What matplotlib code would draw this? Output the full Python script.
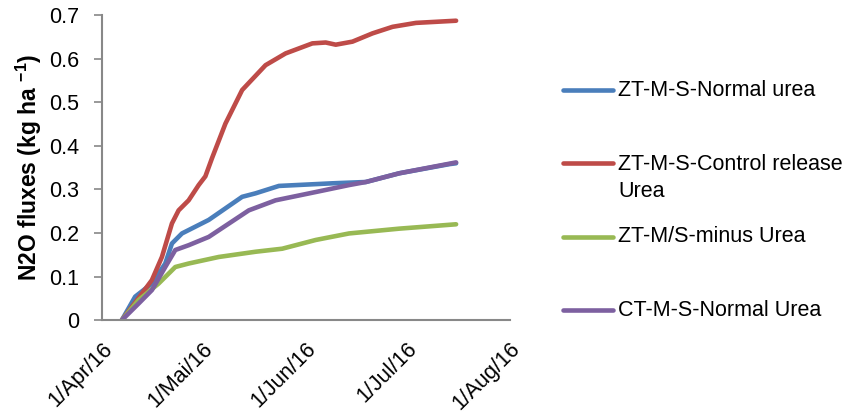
import pandas as pd
import matplotlib
matplotlib.use("Agg")
import matplotlib.pyplot as plt
from matplotlib.lines import Line2D

plt.rcParams['font.family'] = ['Liberation Sans', 'DejaVu Sans']
plt.rcParams['mathtext.default'] = 'regular'

# cumulative N2O fluxes (kg ha-1)
normal_dates = ['2016-04-07', '2016-04-11', '2016-04-16', '2016-04-20', '2016-04-22', '2016-04-25',
                '2016-05-03', '2016-05-13', '2016-05-17', '2016-05-24', '2016-06-09', '2016-06-19',
                '2016-06-29', '2016-07-14', '2016-07-16']
normal_vals = [0, 0.054, 0.084, 0.130, 0.176, 0.199, 0.230, 0.283, 0.291, 0.308, 0.314, 0.317,
               0.337, 0.358, 0.360]

control_dates = ['2016-04-07', '2016-04-13', '2016-04-16', '2016-04-19', '2016-04-22', '2016-04-24',
                 '2016-04-27', '2016-04-30', '2016-05-02', '2016-05-04', '2016-05-08', '2016-05-13',
                 '2016-05-20', '2016-05-26', '2016-06-03', '2016-06-07', '2016-06-10', '2016-06-15',
                 '2016-06-21', '2016-06-27', '2016-07-04', '2016-07-16']
control_vals = [0, 0.061, 0.092, 0.145, 0.222, 0.252, 0.275, 0.310, 0.330, 0.372, 0.451, 0.528,
                0.585, 0.612, 0.635, 0.637, 0.632, 0.639, 0.658, 0.673, 0.682, 0.687]

minus_dates = ['2016-04-07', '2016-04-12', '2016-04-18', '2016-04-23', '2016-04-27', '2016-05-06',
               '2016-05-17', '2016-05-25', '2016-06-04', '2016-06-14', '2016-06-29', '2016-07-16']
minus_vals = [0, 0.046, 0.084, 0.122, 0.130, 0.145, 0.157, 0.164, 0.184, 0.199, 0.210, 0.220]

ct_dates = ['2016-04-07', '2016-04-12', '2016-04-16', '2016-04-20', '2016-04-23', '2016-04-27',
            '2016-05-03', '2016-05-15', '2016-05-23', '2016-06-04', '2016-06-14', '2016-06-19',
            '2016-06-29', '2016-07-14', '2016-07-16']
ct_vals = [0, 0.038, 0.069, 0.122, 0.161, 0.172, 0.191, 0.252, 0.275, 0.294, 0.310, 0.317,
           0.337, 0.359, 0.362]

labels = ['ZT-M-S-Normal urea', 'ZT-M-S-Control release\nUrea', 'ZT-M/S-minus Urea', 'CT-M-S-Normal Urea']
colors = ['#4A7EBB', '#BE4B48', '#98B954', '#7D60A0']

tick_dates = ['2016-04-01', '2016-05-01', '2016-06-01', '2016-07-01', '2016-08-01']
tick_labels = ['1/Apr/16', '1/Mai/16', '1/Jun/16', '1/Jul/16', '1/Aug/16']

fig = plt.figure(figsize=(8.55, 4.18), dpi=100)
ax = fig.add_axes([0.119, 0.234, 0.477, 0.730])

series = [(normal_dates, normal_vals), (control_dates, control_vals),
          (minus_dates, minus_vals), (ct_dates, ct_vals)]
for (d, v), lab, col in zip(series, labels, colors):
    ax.plot(pd.to_datetime(d), v, color=col, linewidth=3.3, label=lab,
            solid_capstyle='round', solid_joinstyle='round')

ax.set_xlim(pd.Timestamp(tick_dates[0]), pd.Timestamp(tick_dates[-1]))
ax.set_ylim(0, 0.7)
ax.set_yticks([0, 0.1, 0.2, 0.3, 0.4, 0.5, 0.6, 0.7])
ax.set_yticklabels(['0', '0.1', '0.2', '0.3', '0.4', '0.5', '0.6', '0.7'])
ax.set_xticks(pd.to_datetime(tick_dates))
ax.set_xticklabels(tick_labels, rotation=45, ha='right', va='top', rotation_mode='anchor')

for s in ['top', 'right']:
    ax.spines[s].set_visible(False)
for s in ['left', 'bottom']:
    ax.spines[s].set_color('#888888')
    ax.spines[s].set_linewidth(1.5)
ax.tick_params(axis='y', direction='out', length=6, width=1.2, color='#888888', labelsize=15.5, pad=10)
ax.tick_params(axis='x', length=0, labelsize=15.5, pad=13)

ax.set_ylabel(r'N2O fluxes (kg ha $^{-1}$)', fontsize=16.5, fontweight='bold', labelpad=4)

# legend laid out like the Excel one: equal slots, the two-line entry centred in its slot
W, H = 855.0, 418.0
row_y = [90, 178, 237, 310]
for lab, col, y in zip(labels, colors, row_y):
    hy = y if '\n' not in lab else 163
    fig.add_artist(Line2D([563 / W, 613 / W], [1 - hy / H, 1 - hy / H], color=col,
                          linewidth=3.3, solid_capstyle='round', transform=fig.transFigure))
    fig.text(618 / W, 1 - y / H, lab, fontsize=15.5, ha='left', va='center', linespacing=1.4)

fig.savefig('out.png', dpi=100)
